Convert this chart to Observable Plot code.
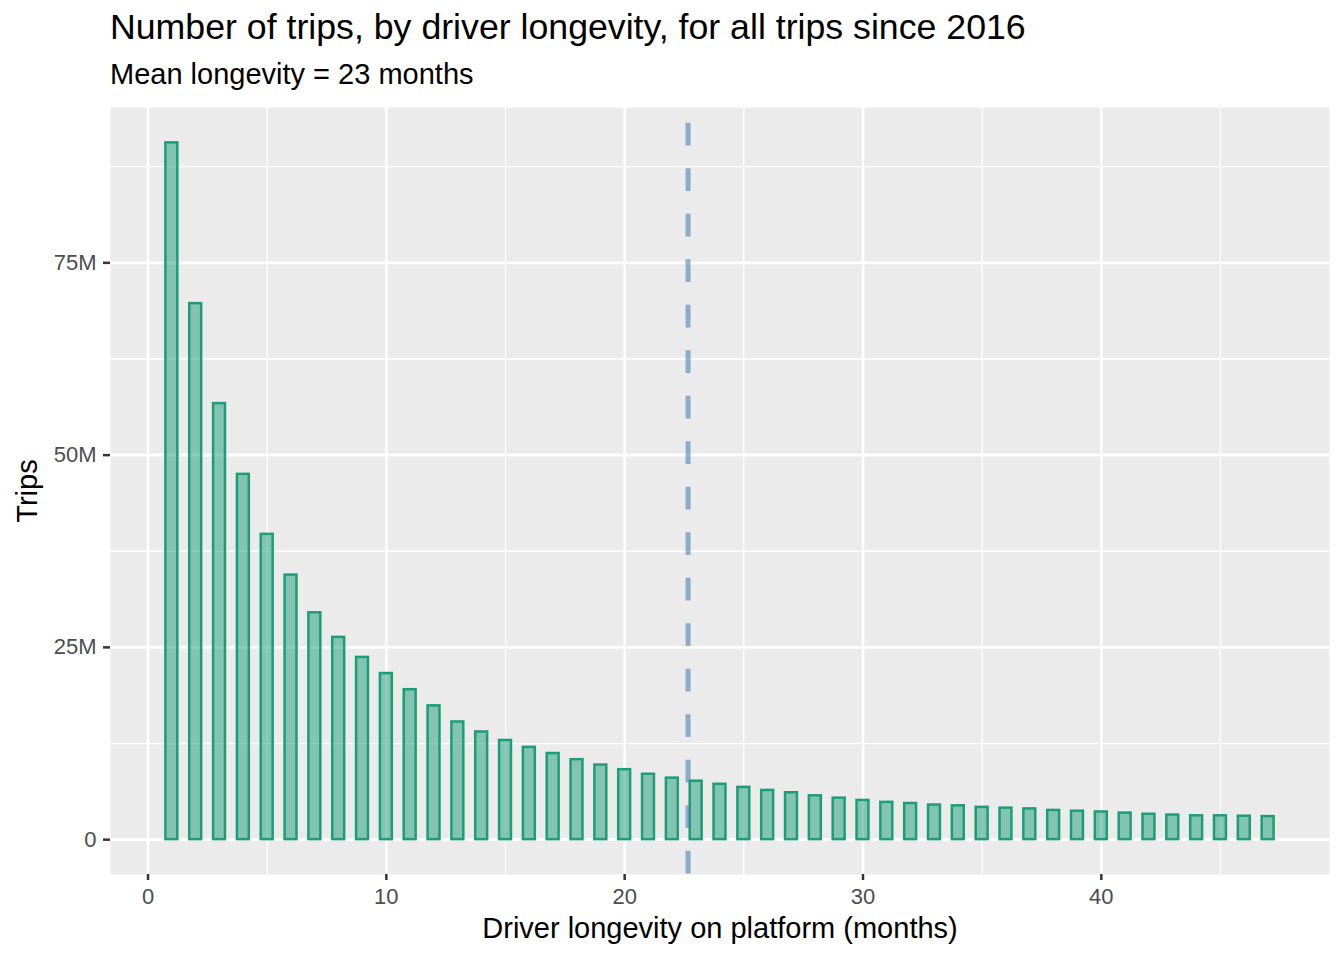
<!DOCTYPE html>
<html><head><meta charset="utf-8">
<script src="https://cdn.jsdelivr.net/npm/d3@7"></script>
<script src="https://cdn.jsdelivr.net/npm/@observablehq/plot@0.6"></script>
<style>
body{margin:0;background:#fff;font-family:"Liberation Sans",Arial,sans-serif;}
#wrap{position:relative;width:1344px;height:960px;overflow:hidden;}
#title{position:absolute;left:110px;top:10px;font-size:35.7px;line-height:35px;color:#000;white-space:nowrap;}
#subtitle{position:absolute;left:110px;top:60px;font-size:29px;line-height:29px;color:#000;white-space:nowrap;}
#chart{position:absolute;left:0;top:97px;}
</style></head><body>
<div id="wrap">
<div id="title">Number of trips, by driver longevity, for all trips since 2016</div>
<div id="subtitle">Mean longevity = 23 months</div>
<div id="chart"></div>
</div>
<script>
const months = [1,2,3,4,5,6,7,8,9,10,11,12,13,14,15,16,17,18,19,20,21,22,23,24,25,26,27,28,29,30,31,32,33,34,35,36,37,38,39,40,41,42,43,44,45,46,47];
// trips in millions
const trips = [90.6,69.7,56.7,47.5,39.7,34.4,29.5,26.3,23.7,21.6,19.5,17.4,15.3,14.0,12.9,12.0,11.2,10.4,9.7,9.1,8.5,8.0,7.6,7.2,6.8,6.4,6.1,5.7,5.4,5.1,4.85,4.7,4.5,4.4,4.2,4.1,4.0,3.8,3.7,3.6,3.45,3.3,3.2,3.1,3.1,3.05,3.0];
const meanLongevity = [22.66];
const xTicks = [0,10,20,30,40];
const xMinor = [5,15,25,35,45];
const yTicks = [0,25,50,75];
const yTickLabels = ["0","25M","50M","75M"];
const yMinor = [12.5,37.5,62.5,87.5];
const xTitle = "Driver longevity on platform (months)";
const yTitle = "Trips";

const data = months.map((m,i)=>({month:m, trips:trips[i]}));
const font = "Liberation Sans, Arial, sans-serif";

const plot = Plot.plot({
  width:1344, height:863,
  marginTop:10, marginBottom:86, marginLeft:110, marginRight:15,
  style:{fontFamily:font, background:"transparent", overflow:"visible"},
  x:{domain:[-1.575,49.575]},
  y:{domain:[-4.53,95.2]},
  marks:[
    Plot.frame({fill:"#EBEBEB", stroke:null}),
    Plot.ruleX(xMinor,{stroke:"white",strokeWidth:1.3}),
    Plot.ruleY(yMinor,{stroke:"white",strokeWidth:1.3}),
    Plot.ruleX(xTicks,{stroke:"white",strokeWidth:2.6}),
    Plot.ruleY(yTicks,{stroke:"white",strokeWidth:2.6}),
    Plot.rectY(data,{x1:d=>d.month-0.25,x2:d=>d.month+0.25,y1:0,y2:"trips",
      fill:"#1b9e77",fillOpacity:0.5,stroke:"#1b9e77",strokeWidth:2.5}),
    Plot.ruleX(meanLongevity,{stroke:"steelblue",strokeOpacity:0.6,strokeWidth:5,
      strokeDasharray:"22.7,22.8",strokeDashoffset:29.8}),
    Plot.axisX(xTicks,{tickSize:6,tickPadding:8,fontSize:22,stroke:"#333333",fill:"#4D4D4D",
      strokeWidth:2.5,label:null,tickFormat:d=>String(d)}),
    Plot.axisY(yTicks,{tickSize:7,tickPadding:7,fontSize:22,stroke:"#333333",fill:"#4D4D4D",
      strokeWidth:2.5,label:null,tickFormat:(d,i)=>yTickLabels[yTicks.indexOf(d)]}),
    Plot.text([xTitle],{text:d=>d,frameAnchor:"bottom",lineAnchor:"middle",textAnchor:"middle",
      dy:54,fontSize:29,fill:"black"}),
    Plot.text([yTitle],{text:d=>d,frameAnchor:"left",lineAnchor:"middle",textAnchor:"middle",
      dx:-83,rotate:-90,fontSize:29,fill:"black"})
  ]
});
document.getElementById("chart").appendChild(plot);
</script>
</body></html>
